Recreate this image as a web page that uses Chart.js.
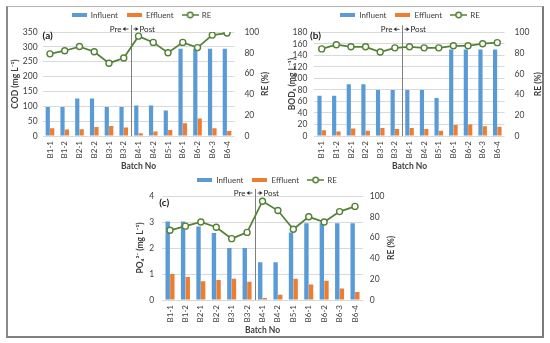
<!DOCTYPE html>
<html>
<head>
<meta charset="utf-8">
<script src="https://cdn.jsdelivr.net/npm/chart.js@4"></script>
<style>
  body { margin: 0; background: #fff; }
  #page { position: relative; width: 550px; height: 343px; overflow: hidden; background: #fff; }
  #frame {
    position: absolute; left: 6px; top: 6px; width: 538px; height: 332px; box-sizing: border-box;
    border-top: 1px solid #b4b4b4; border-left: 2px solid #8a8a8a;
    border-right: 2px solid #7a7a7a; border-bottom: 2px solid #808080;
  }
  canvas { position: absolute; }
</style>
</head>
<body>
<div id="page">
  <div id="frame"></div>
  <canvas id="chartA" width="267" height="170" style="left:8px;top:2px"></canvas>
  <canvas id="chartB" width="270" height="170" style="left:275px;top:2px"></canvas>
  <canvas id="chartC" width="290" height="169" style="left:122px;top:167px"></canvas>
</div>
<script>
// batches along the x axis (same for all three panels)
const batches = ['B1-1', 'B1-2', 'B2-1', 'B2-2', 'B3-1', 'B3-2', 'B4-1', 'B4-2', 'B5-1', 'B6-1', 'B6-2', 'B6-3', 'B6-4'];

// (a) COD
const codInfluent = [98, 98, 126, 126, 98, 98, 103, 103, 86, 294, 294, 294, 294];
const codEffluent = [26, 22, 23, 30, 34, 29, 9, 15, 20, 43, 59, 26, 17];
const codRE = [79, 82, 86, 81, 70, 75, 96, 90, 80, 90, 85, 97, 99];

// (b) BOD5
const bodInfluent = [70, 70, 90, 90, 80, 80, 80, 80, 66, 150, 150, 150, 150];
const bodEffluent = [10, 8, 13, 9, 14, 12, 14, 12, 9, 19, 20, 17, 16];
const bodRE = [84, 88, 86, 86, 81, 85, 86, 85, 85, 87, 87, 89, 90];

// (c) PO4
const poInfluent = [3.02, 3.02, 2.83, 2.58, 2.0, 2.0, 1.45, 1.45, 2.6, 2.95, 2.95, 2.95, 2.95];
const poEffluent = [1.0, 0.88, 0.72, 0.77, 0.82, 0.7, 0.08, 0.2, 0.82, 0.6, 0.74, 0.44, 0.31];
const poRE = [67, 71, 75, 70, 59, 65, 95, 86, 68, 80, 75, 85, 90];

const blue = '#5B9BD5';
const orange = '#ED7D31';
const green = '#548235';
const family = 'Lato, "Liberation Sans", sans-serif';
const textColor = '#404040';

// small canvases used as legend markers
function swatch(w, h, draw) {
    const c = document.createElement('canvas');
    c.width = w;
    c.height = h;
    draw(c.getContext('2d'));
    return c;
}
const legendIcons = [
    swatch(15, 4, ctx => { ctx.fillStyle = blue; ctx.fillRect(0, 0, 15, 4); }),
    swatch(15, 4, ctx => { ctx.fillStyle = orange; ctx.fillRect(0, 0, 15, 4); }),
    swatch(17, 8, ctx => {
        ctx.strokeStyle = green;
        ctx.lineWidth = 1.5;
        ctx.beginPath(); ctx.moveTo(0, 4); ctx.lineTo(17, 4); ctx.stroke();
        ctx.beginPath(); ctx.arc(8.5, 4, 2.7, 0, Math.PI * 2);
        ctx.fillStyle = '#fff'; ctx.fill(); ctx.stroke();
    })
];

// extra bits: legend height, pre/post divider, panel tag, right axis title
function makeExtras(p) {
    return {
        id: 'extras',
        afterInit(chart) {
            const fit = chart.legend.fit;
            chart.legend.fit = function () {
                fit.call(this);
                this.height = p.legendH;
            };
        },
        beforeDatasetsDraw(chart) {
            const {ctx, chartArea: a, scales: {x}} = chart;
            const lx = Math.round((x.getPixelForValue(5) + x.getPixelForValue(6)) / 2) + 0.5;
            ctx.save();
            ctx.strokeStyle = '#7f7f7f';
            ctx.lineWidth = 1;
            ctx.beginPath();
            ctx.moveTo(lx, a.top - 7);
            ctx.lineTo(lx, a.bottom);
            ctx.stroke();
            ctx.restore();
        },
        afterDraw(chart) {
            const {ctx, chartArea: a, scales: {x}} = chart;
            const lx = Math.round((x.getPixelForValue(5) + x.getPixelForValue(6)) / 2) + 0.5;
            const ty = a.top - 3;
            ctx.save();
            ctx.fillStyle = '#262626';
            ctx.strokeStyle = '#262626';
            ctx.font = '8px ' + family;
            ctx.textBaseline = 'middle';
            ctx.textAlign = 'right';
            ctx.fillText('Pre', lx - 10, ty);
            ctx.textAlign = 'left';
            ctx.fillText('Post', lx + 8, ty);
            // arrow heads
            ctx.beginPath();
            ctx.moveTo(lx - 9, ty); ctx.lineTo(lx - 6, ty - 2); ctx.lineTo(lx - 6, ty + 2); ctx.closePath(); ctx.fill();
            ctx.beginPath();
            ctx.moveTo(lx + 7, ty); ctx.lineTo(lx + 4, ty - 2); ctx.lineTo(lx + 4, ty + 2); ctx.closePath(); ctx.fill();
            ctx.lineWidth = 0.8;
            ctx.beginPath(); ctx.moveTo(lx - 6, ty); ctx.lineTo(lx - 3, ty); ctx.stroke();
            ctx.beginPath(); ctx.moveTo(lx + 2, ty); ctx.lineTo(lx + 4, ty); ctx.stroke();

            // panel tag
            ctx.fillStyle = '#1a1a1a';
            ctx.font = 'bold 10px ' + family;
            ctx.textAlign = 'left';
            ctx.fillText(p.tag, a.left + p.tagDx, a.top + p.tagDy);

            // right axis title, reading bottom to top
            ctx.font = 'bold 8.5px ' + family;
            ctx.fillStyle = textColor;
            ctx.translate(a.right + p.reX, (a.top + a.bottom) / 2);
            ctx.rotate(-Math.PI / 2);
            ctx.textAlign = 'center';
            ctx.fillText('RE (%)', 0, 0);
            ctx.restore();
        }
    };
}

function makeChart(id, p) {
    const tickFont = {size: 8.5, family: family};
    const titleFont = {size: 8.5, weight: 'bold', family: family};
    return new Chart(document.getElementById(id), {
        type: 'bar',
        data: {
            labels: batches,
            datasets: [
                {label: 'Influent', data: p.influent, backgroundColor: blue, yAxisID: 'y', barPercentage: 0.95, categoryPercentage: 0.6},
                {label: 'Effluent', data: p.effluent, backgroundColor: orange, yAxisID: 'y', barPercentage: 0.95, categoryPercentage: 0.6},
                {
                    type: 'line', label: 'RE', data: p.re, yAxisID: 'y1', order: -1,
                    borderColor: green, borderWidth: 1.75, backgroundColor: '#fff',
                    pointRadius: 3, pointBorderWidth: 1.4, pointBackgroundColor: '#fff', pointBorderColor: green
                }
            ]
        },
        options: {
            responsive: false,
            animation: false,
            devicePixelRatio: 1,
            layout: {padding: 0},
            plugins: {
                tooltip: {enabled: false},
                legend: {
                    position: 'top',
                    labels: {
                        usePointStyle: true,
                        pointStyleWidth: 15,
                        padding: 9,
                        color: textColor,
                        font: {size: 8, family: family},
                        generateLabels(chart) {
                            const items = Chart.defaults.plugins.legend.labels.generateLabels(chart);
                            items.sort((a, b) => a.datasetIndex - b.datasetIndex);
                            items.forEach(it => { it.pointStyle = legendIcons[it.datasetIndex]; });
                            return items;
                        }
                    }
                }
            },
            scales: {
                x: {
                    grid: {display: false, drawTicks: false},
                    border: {display: false},
                    ticks: {minRotation: 90, maxRotation: 90, autoSkip: false, padding: 5, color: textColor, font: {size: 8, family: family}},
                    title: {display: true, text: 'Batch No', color: textColor, font: titleFont, padding: {top: 0, bottom: 1}},
                    afterFit(s) { s.height = p.xH; }
                },
                y: {
                    position: 'left',
                    min: 0,
                    max: p.yMax,
                    ticks: {stepSize: p.yStep, autoSkip: false, padding: p.yPad, color: textColor, font: tickFont},
                    grid: {color: '#d9d9d9', drawTicks: false, lineWidth: 1},
                    border: {display: false},
                    title: {display: true, text: p.yTitle, color: textColor, font: titleFont, padding: {top: p.titlePad, bottom: 0}},
                    afterFit(s) { s.width = p.yW; }
                },
                y1: {
                    position: 'right',
                    min: 0,
                    max: 100,
                    ticks: {stepSize: 20, autoSkip: false, padding: p.y1Pad, color: textColor, font: tickFont},
                    grid: {display: false, drawTicks: false},
                    border: {display: false},
                    afterFit(s) { s.width = p.y1W; }
                }
            }
        },
        plugins: [makeExtras(p)]
    });
}

makeChart('chartA', {
    influent: codInfluent, effluent: codEffluent, re: codRE,
    yTitle: 'COD (mg L\u207B\u00B9)', yMax: 350, yStep: 50,
    legendH: 30, xH: 36, yW: 34.6, y1W: 40.6, yPad: 5, y1Pad: 10, titlePad: 2,
    reX: 30.6, tag: '(a)', tagDx: 0, tagDy: 4
});

makeChart('chartB', {
    influent: bodInfluent, effluent: bodEffluent, re: bodRE,
    yTitle: 'BOD\u2085 (mg L\u207B\u00B9)', yMax: 180, yStep: 20,
    legendH: 30.3, xH: 36, yW: 39.4, y1W: 40.4, yPad: 7, y1Pad: 10, titlePad: 12,
    reX: 33.4, tag: '(b)', tagDx: -4.4, tagDy: 3
});

makeChart('chartC', {
    influent: poInfluent, effluent: poEffluent, re: poRE,
    yTitle: 'PO\u2084\u00B3\u207B (mg L\u207B\u00B9)', yMax: 4, yStep: 1,
    legendH: 29, xH: 36, yW: 40.3, y1W: 49.3, yPad: 8, y1Pad: 7, titlePad: 13.6,
    reX: 29, tag: '(c)', tagDx: -3, tagDy: 6.5
});
</script>
</body>
</html>
